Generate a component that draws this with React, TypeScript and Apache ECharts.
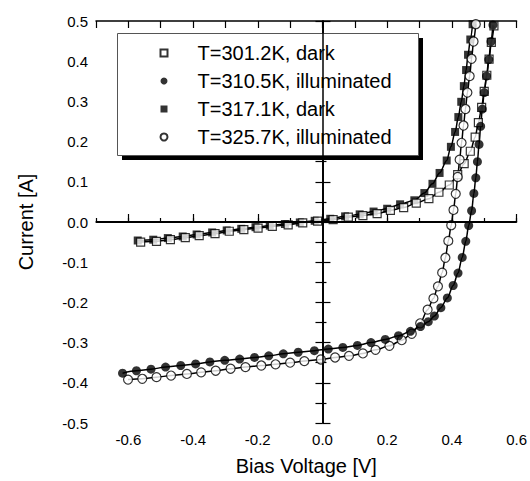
import React, { useEffect, useRef } from "react";
import * as echarts from "echarts";

const FONT = "'Liberation Sans', Arial, sans-serif";

const seriesNames = [
  "T=301.2K, dark",
  "T=310.5K, illuminated",
  "T=317.1K, dark",
  "T=325.7K, illuminated",
];

// T=301.2K, dark (open squares)
const v301 = [-0.562, -0.513, -0.47, -0.424, -0.381, -0.332, -0.288, -0.243, -0.199, -0.155, -0.106, -0.061, -0.015, 0.033, 0.08, 0.125, 0.169, 0.21, 0.251, 0.29, 0.329, 0.36, 0.392, 0.418, 0.438, 0.457, 0.472, 0.482, 0.492, 0.5, 0.508, 0.515, 0.522, 0.53];
const i301 = [-0.05, -0.048, -0.044, -0.039, -0.034, -0.029, -0.023, -0.019, -0.015, -0.011, -0.007, -0.002, 0.002, 0.006, 0.012, 0.016, 0.021, 0.029, 0.036, 0.047, 0.058, 0.074, 0.092, 0.118, 0.145, 0.176, 0.211, 0.247, 0.285, 0.325, 0.365, 0.405, 0.447, 0.488];

// T=310.5K, illuminated (filled circles)
const v310 = [-0.618, -0.575, -0.53, -0.485, -0.438, -0.392, -0.348, -0.302, -0.256, -0.21, -0.166, -0.121, -0.075, -0.025, 0.018, 0.063, 0.108, 0.15, 0.194, 0.235, 0.272, 0.303, 0.327, 0.346, 0.366, 0.386, 0.404, 0.419, 0.432, 0.443, 0.452, 0.461, 0.468, 0.474, 0.479, 0.484, 0.489, 0.494, 0.5, 0.507, 0.514, 0.521, 0.527];
const i310 = [-0.376, -0.37, -0.366, -0.361, -0.357, -0.353, -0.348, -0.344, -0.341, -0.337, -0.333, -0.328, -0.324, -0.32, -0.316, -0.312, -0.307, -0.3, -0.292, -0.283, -0.272, -0.26, -0.248, -0.234, -0.213, -0.189, -0.158, -0.127, -0.088, -0.048, -0.009, 0.028, 0.071, 0.11, 0.15, 0.193, 0.238, 0.281, 0.322, 0.363, 0.404, 0.449, 0.49];

// T=317.1K, dark (filled squares)
const v317 = [-0.571, -0.523, -0.478, -0.432, -0.389, -0.341, -0.296, -0.251, -0.207, -0.163, -0.116, -0.07, -0.024, 0.024, 0.07, 0.115, 0.158, 0.2, 0.24, 0.284, 0.315, 0.34, 0.362, 0.384, 0.397, 0.41, 0.42, 0.429, 0.437, 0.444, 0.45, 0.457, 0.464];
const i317 = [-0.046, -0.044, -0.04, -0.036, -0.031, -0.026, -0.021, -0.017, -0.013, -0.009, -0.005, -0.001, 0.003, 0.008, 0.014, 0.019, 0.026, 0.033, 0.044, 0.054, 0.072, 0.095, 0.122, 0.153, 0.187, 0.224, 0.261, 0.299, 0.338, 0.378, 0.416, 0.454, 0.492];

// T=325.7K, illuminated (open circles)
const v325 = [-0.601, -0.557, -0.513, -0.468, -0.419, -0.375, -0.33, -0.284, -0.238, -0.189, -0.145, -0.1, -0.056, -0.005, 0.039, 0.082, 0.125, 0.164, 0.207, 0.245, 0.276, 0.302, 0.325, 0.343, 0.357, 0.37, 0.38, 0.389, 0.398, 0.405, 0.412, 0.418, 0.424, 0.43, 0.436, 0.442, 0.448, 0.455, 0.461, 0.467, 0.474];
const i325 = [-0.392, -0.39, -0.386, -0.382, -0.378, -0.374, -0.37, -0.365, -0.361, -0.357, -0.354, -0.35, -0.346, -0.342, -0.337, -0.333, -0.327, -0.318, -0.308, -0.294, -0.278, -0.252, -0.218, -0.19, -0.16, -0.126, -0.089, -0.047, -0.008, 0.03, 0.07, 0.112, 0.155, 0.197, 0.24, 0.281, 0.322, 0.363, 0.406, 0.449, 0.492];

const xTickLabels = [-0.6, -0.4, -0.2, 0, 0.2, 0.4, 0.6];

const pair = (xs: number[], ys: number[]) => xs.map((x, k) => [x, ys[k]]);
const fmt = (v: number) => (Math.abs(v) < 1e-9 ? 0 : v).toFixed(1);

export default function App() {
  const ref = useRef<HTMLDivElement>(null);

  useEffect(() => {
    if (!ref.current) return;
    const chart = echarts.init(ref.current, null, { renderer: "svg" });

    const axisLine = { show: true, lineStyle: { color: "#000", width: 1.5 } };
    const tickStyle = { color: "#000", width: 1.2 };

    const fitLine = (name: string, xs: number[], ys: number[], extra: any = {}) => ({
      type: "line",
      id: "fit-" + name,
      data: pair(xs, ys),
      showSymbol: false,
      symbol: "none",
      smooth: 0.3,
      smoothMonotone: "x",
      lineStyle: { color: "#000", width: 1.5 },
      z: 2,
      silent: true,
      ...extra,
    });

    const scatter = (name: string, xs: number[], ys: number[], symbol: string, open: boolean) => ({
      type: "scatter",
      name,
      data: pair(xs, ys),
      symbol,
      symbolSize: symbol === "circle" ? 9 : 8,
      itemStyle: open
        ? { color: "#fff", borderColor: "#000", borderWidth: 1.2 }
        : { color: "#000", borderColor: "#000", borderWidth: 0 },
      z: 2,
    });

    chart.setOption({
      animation: false,
      backgroundColor: "#fff",
      textStyle: { fontFamily: FONT },
      grid: { left: 96, right: 11, top: 21, bottom: 54, containLabel: false },
      xAxis: [
        {
          type: "value",
          position: "bottom",
          min: -0.7,
          max: 0.6,
          interval: 0.1,
          axisLine,
          axisTick: { show: true, inside: true, length: 4, lineStyle: tickStyle },
          axisLabel: {
            show: true,
            customValues: xTickLabels,
            formatter: fmt,
            color: "#000",
            fontSize: 15,
            fontFamily: FONT,
            margin: 9,
          },
          splitLine: { show: false },
          name: "Bias Voltage [V]",
          nameLocation: "middle",
          nameGap: 33,
          nameTextStyle: { fontSize: 20, color: "#000", fontFamily: FONT },
        },
        {
          type: "value",
          position: "bottom",
          min: -0.7,
          max: 0.6,
          interval: 0.1,
          axisLine: { show: false },
          axisTick: { show: true, inside: true, length: 8, customValues: xTickLabels, lineStyle: tickStyle },
          axisLabel: { show: false },
          splitLine: { show: false },
        },
        {
          type: "value",
          position: "top",
          min: -0.7,
          max: 0.6,
          interval: 0.1,
          axisLine,
          axisTick: { show: true, inside: true, length: 7, lineStyle: tickStyle },
          axisLabel: { show: false },
          splitLine: { show: false },
        },
      ],
      yAxis: [
        {
          type: "value",
          position: "left",
          min: -0.5,
          max: 0.5,
          interval: 0.1,
          axisLine,
          axisTick: { show: true, inside: true, length: 8, lineStyle: tickStyle },
          minorTick: { show: true, splitNumber: 2, length: 4, lineStyle: tickStyle },
          axisLabel: { show: true, formatter: fmt, color: "#000", fontSize: 15, fontFamily: FONT, margin: 8 },
          splitLine: { show: false },
          minorSplitLine: { show: false },
          name: "Current [A]",
          nameLocation: "middle",
          nameGap: 60,
          nameTextStyle: { fontSize: 20, color: "#000", fontFamily: FONT },
        },
        {
          type: "value",
          position: "right",
          min: -0.5,
          max: 0.5,
          interval: 0.05,
          axisLine,
          axisTick: { show: true, inside: true, length: 7, lineStyle: tickStyle },
          axisLabel: { show: false },
          splitLine: { show: false },
        },
      ],
      legend: {
        orient: "vertical",
        left: 159.5,
        top: 43,
        padding: 0,
        itemWidth: 7,
        itemHeight: 7,
        itemGap: 8,
        z: 4,
        selectedMode: false,
        textStyle: { fontSize: 20, color: "#000", fontFamily: FONT, padding: [0, 0, 0, 25] },
        data: seriesNames,
      },
      graphic: [
        { type: "rect", z: 3, shape: { x: 122, y: 38, width: 301, height: 122 }, style: { fill: "#000" } },
        {
          type: "rect",
          z: 3,
          shape: { x: 117.5, y: 33.5, width: 301, height: 122 },
          style: { fill: "#fff", stroke: "#555", lineWidth: 1 },
        },
      ],
      series: [
        fitLine("301", v301, i301, {
          markLine: {
            silent: true,
            symbol: ["none", "none"],
            label: { show: false },
            data: [
              { yAxis: 0, lineStyle: { color: "#000", width: 2, type: "solid" } },
              { xAxis: 0, lineStyle: { color: "#000", width: 1.5, type: "solid" } },
            ],
          },
        }),
        fitLine("317", v317, i317),
        fitLine("325", v325, i325),
        fitLine("310", v310, i310),
        scatter(seriesNames[2], v317, i317, "rect", false),
        scatter(seriesNames[0], v301, i301, "rect", true),
        scatter(seriesNames[3], v325, i325, "circle", true),
        scatter(seriesNames[1], v310, i310, "circle", false),
      ],
    });

    return () => chart.dispose();
  }, []);

  return (
    <div
      ref={ref}
      style={{ position: "fixed", left: 0, top: 0, width: 530, height: 481, background: "#fff" }}
    />
  );
}
